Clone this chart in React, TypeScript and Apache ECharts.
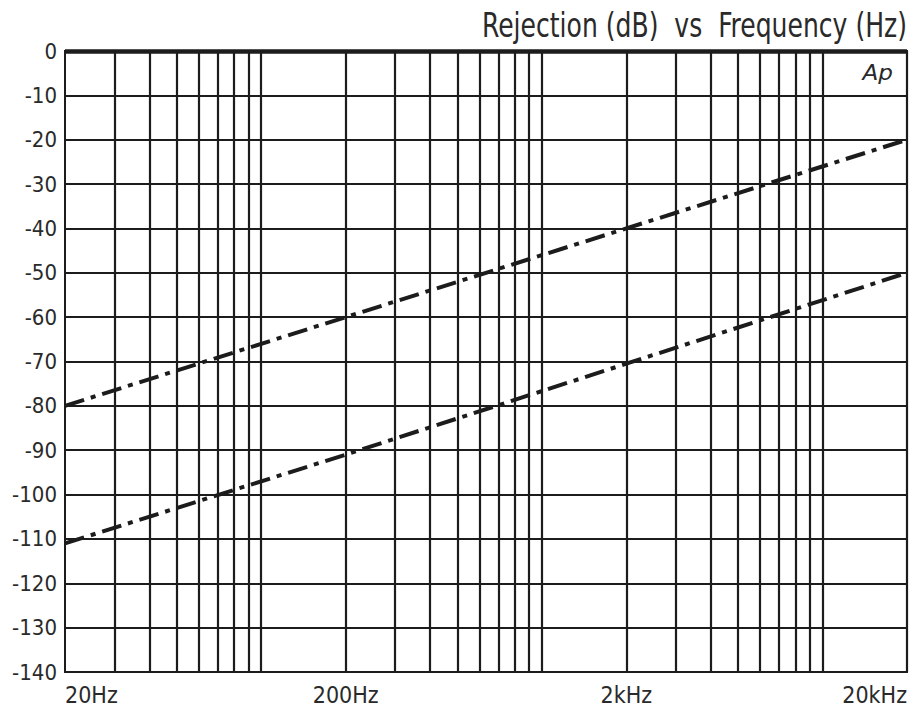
import React, { useEffect, useRef } from "react";
import * as echarts from "echarts";

const freqGridLines = [
  30, 40, 50, 60, 70, 80, 90, 100,
  200, 300, 400, 500, 600, 700, 800, 900, 1000,
  2000, 3000, 4000, 5000, 6000, 7000, 8000, 9000, 10000,
];
const xLabelValues = [20, 200, 2000, 20000];
const xLabelTexts: Record<number, string> = { 20: "20Hz", 200: "200Hz", 2000: "2kHz", 20000: "20kHz" };

const freqs = [20, 200, 2000, 20000];
const upperRejection = [-80, -60, -40, -20];
const lowerRejection = [-111, -91, -70.5, -50];

const titleText = "Rejection (dB)  vs  Frequency (Hz)";

const FONT = "'DejaVu Sans Condensed', 'DejaVu Sans', sans-serif";
const INK = "#1c1c1c";
const TEXT = "#2a2a2a";

export default function App() {
  const ref = useRef<HTMLDivElement>(null);
  useEffect(() => {
    if (!ref.current) return;
    const chart = echarts.init(ref.current, null, { renderer: "svg" });
    const dashDot = [20, 7, 5, 7];
    chart.setOption({
      animation: false,
      backgroundColor: "#ffffff",
      grid: { left: 65, right: 17, top: 51, bottom: 40, show: true, borderColor: INK, borderWidth: 2, backgroundColor: "transparent" },
      graphic: [
        {
          type: "text",
          x: 907,
          y: 25,
          scaleX: 0.82,
          style: {
            text: titleText,
            fontFamily: FONT,
            fontSize: 34,
            fill: TEXT,
            textAlign: "right",
            textVerticalAlign: "middle",
          },
        },
        {
          type: "text",
          x: 893,
          y: 73,
          scaleX: 1.1,
          style: {
            text: "Ap",
            fontFamily: "'DejaVu Sans', sans-serif",
            fontStyle: "italic",
            fontSize: 21,
            fill: TEXT,
            textAlign: "right",
            textVerticalAlign: "middle",
          },
        },
      ],
      xAxis: {
        type: "log",
        logBase: 10,
        min: 20,
        max: 20000,
        axisLine: { show: true, lineStyle: { color: INK, width: 2 } },
        axisTick: { show: false },
        splitLine: { show: false },
        minorSplitLine: { show: false },
        axisLabel: {
          customValues: xLabelValues,
          formatter: (v: number) => xLabelTexts[Math.round(v)] ?? "",
          fontFamily: FONT,
          fontSize: 23,
          color: TEXT,
          margin: 11,
          alignMinLabel: "left",
          alignMaxLabel: "right",
        },
      },
      yAxis: {
        type: "value",
        min: -140,
        max: 0,
        interval: 10,
        axisLine: { show: true, lineStyle: { color: INK, width: 2 } },
        axisTick: { show: false },
        splitLine: { show: true, lineStyle: { color: INK, width: 2.2 } },
        axisLabel: { fontFamily: FONT, fontSize: 22, color: TEXT, margin: 8 },
      },
      series: [
        {
          type: "line",
          data: [],
          silent: true,
          markLine: {
            silent: true,
            symbol: ["none", "none"],
            label: { show: false },
            lineStyle: { type: "solid", color: INK, width: 2.2 },
            data: [
              ...freqGridLines.map((f) => ({ xAxis: f })),
              { xAxis: 20000 },
              { yAxis: 0, lineStyle: { width: 4.5, type: "solid", color: INK } },
            ],
          },
        },
        {
          type: "line",
          data: freqs.map((f, i) => [f, upperRejection[i]]),
          symbol: "none",
          lineStyle: { color: INK, width: 4, type: dashDot },
          z: 5,
        },
        {
          type: "line",
          data: freqs.map((f, i) => [f, lowerRejection[i]]),
          symbol: "none",
          lineStyle: { color: INK, width: 4, type: dashDot },
          z: 5,
        },
      ],
    });
    return () => chart.dispose();
  }, []);
  return <div ref={ref} style={{ position: "absolute", left: 0, top: 0, width: 924, height: 712 }} />;
}
